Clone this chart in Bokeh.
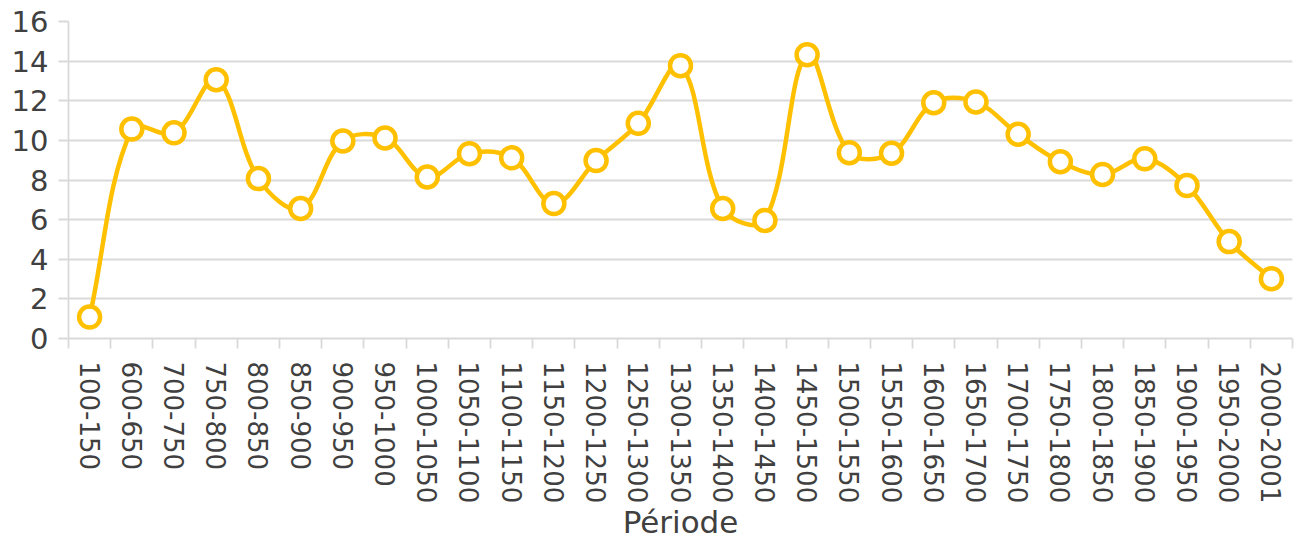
import math
from bokeh.plotting import figure
from bokeh.models import ColumnDataSource, Range1d, FixedTicker
from bokeh.embed import file_html
from bokeh.resources import INLINE

periods = ["100-150", "600-650", "700-750", "750-800", "800-850", "850-900", "900-950",
           "950-1000", "1000-1050", "1050-1100", "1100-1150", "1150-1200", "1200-1250",
           "1250-1300", "1300-1350", "1350-1400", "1400-1450", "1450-1500", "1500-1550",
           "1550-1600", "1600-1650", "1650-1700", "1700-1750", "1750-1800", "1800-1850",
           "1850-1900", "1900-1950", "1950-2000", "2000-2001"]
values = [1.08, 10.57, 10.38, 13.06, 8.07, 6.56, 9.97, 10.12, 8.15, 9.33, 9.12, 6.81, 8.98,
          10.86, 13.77, 6.56, 5.96, 14.32, 9.38, 9.35, 11.9, 11.94, 10.31, 8.92, 8.28, 9.07,
          7.72, 4.89, 3.02]
y_ticks = [0, 2, 4, 6, 8, 10, 12, 14, 16]

GOLD = "#FFC000"
GRID = "#D9D9D9"
TEXT = "#404040"
FONT = "DejaVu Sans"

n = len(periods)
xs = list(range(n))

# smoothed line: cardinal-spline bezier with chord-length weighting (in screen proportions)
PX_X = 42.2   # approx pixels per category
PX_Y = 19.875 # approx pixels per unit
T = 0.36

def dist(a, b):
    return math.hypot((b[0] - a[0]) * PX_X, (b[1] - a[1]) * PX_Y)

P = list(zip(xs, values))
cin, cout = [], []
for i in range(n):
    pa = P[max(i - 1, 0)]
    pb = P[i]
    pc = P[min(i + 1, n - 1)]
    d1 = dist(pa, pb)
    d2 = dist(pb, pc)
    tot = d1 + d2 if d1 + d2 > 0 else 1.0
    fa = T * d1 / tot
    fb = T * d2 / tot
    dx, dy = pc[0] - pa[0], pc[1] - pa[1]
    cin.append((pb[0] - fa * dx, pb[1] - fa * dy))
    cout.append((pb[0] + fb * dx, pb[1] + fb * dy))

x0, y0, x1, y1, cx0, cy0, cx1, cy1 = [], [], [], [], [], [], [], []
for i in range(n - 1):
    x0.append(P[i][0]); y0.append(P[i][1]); x1.append(P[i + 1][0]); y1.append(P[i + 1][1])
    cx0.append(cout[i][0]); cy0.append(cout[i][1])
    cx1.append(cin[i + 1][0]); cy1.append(cin[i + 1][1])

curve = ColumnDataSource(dict(x0=x0, y0=y0, x1=x1, y1=y1, cx0=cx0, cy0=cy0, cx1=cx1, cy1=cy1))
pts = ColumnDataSource(dict(x=xs, y=values))

p = figure(width=1298, height=543, output_backend="svg", toolbar_location=None,
           x_range=Range1d(-0.5, n - 0.5), y_range=Range1d(0, 16),
           min_border_left=68, min_border_right=6, min_border_top=21, min_border_bottom=204)
p.outline_line_color = None
p.background_fill_color = "white"
p.border_fill_color = "white"

p.bezier(x0="x0", y0="y0", x1="x1", y1="y1", cx0="cx0", cy0="cy0", cx1="cx1", cy1="cy1",
         source=curve, line_color=GOLD, line_width=4.5)
p.scatter(x="x", y="y", source=pts, size=21, fill_color="white", line_color=GOLD, line_width=4.5)

# grid
p.xgrid.grid_line_color = None
p.ygrid.grid_line_color = GRID
p.ygrid.grid_line_width = 1.8

# y axis
p.yaxis.ticker = FixedTicker(ticks=y_ticks)
p.yaxis.axis_line_color = GRID
p.yaxis.axis_line_width = 1.8
p.yaxis.major_tick_line_color = GRID
p.yaxis.major_tick_line_width = 1.8
p.yaxis.major_tick_out = 10
p.yaxis.major_tick_in = 0
p.yaxis.minor_tick_line_color = None
p.yaxis.major_label_text_font = FONT
p.yaxis.major_label_text_font_size = "29px"
p.yaxis.major_label_text_color = TEXT
p.yaxis.major_label_standoff = 10

# x axis
p.xaxis.ticker = FixedTicker(ticks=xs, minor_ticks=[i - 0.5 for i in range(n + 1)])
p.xaxis.major_label_overrides = {i: lab for i, lab in enumerate(periods)}
p.xaxis.major_label_orientation = -math.pi / 2
p.xaxis.axis_line_color = GRID
p.xaxis.axis_line_width = 1.8
p.xaxis.major_tick_line_color = None
p.xaxis.major_tick_out = 10
p.xaxis.major_tick_in = 0
p.xaxis.minor_tick_line_color = GRID
p.xaxis.minor_tick_line_width = 1.8
p.xaxis.minor_tick_out = 10
p.xaxis.minor_tick_in = 0
p.xaxis.major_label_text_font = FONT
p.xaxis.major_label_text_font_size = "26px"
p.xaxis.major_label_text_color = TEXT
p.xaxis.major_label_standoff = 13
p.xaxis.axis_label = "Période"
p.xaxis.axis_label_text_font = FONT
p.xaxis.axis_label_text_font_size = "31px"
p.xaxis.axis_label_text_font_style = "normal"
p.xaxis.axis_label_text_color = TEXT
p.xaxis.axis_label_standoff = -2

open("out.html", "w").write(file_html(p, INLINE))
